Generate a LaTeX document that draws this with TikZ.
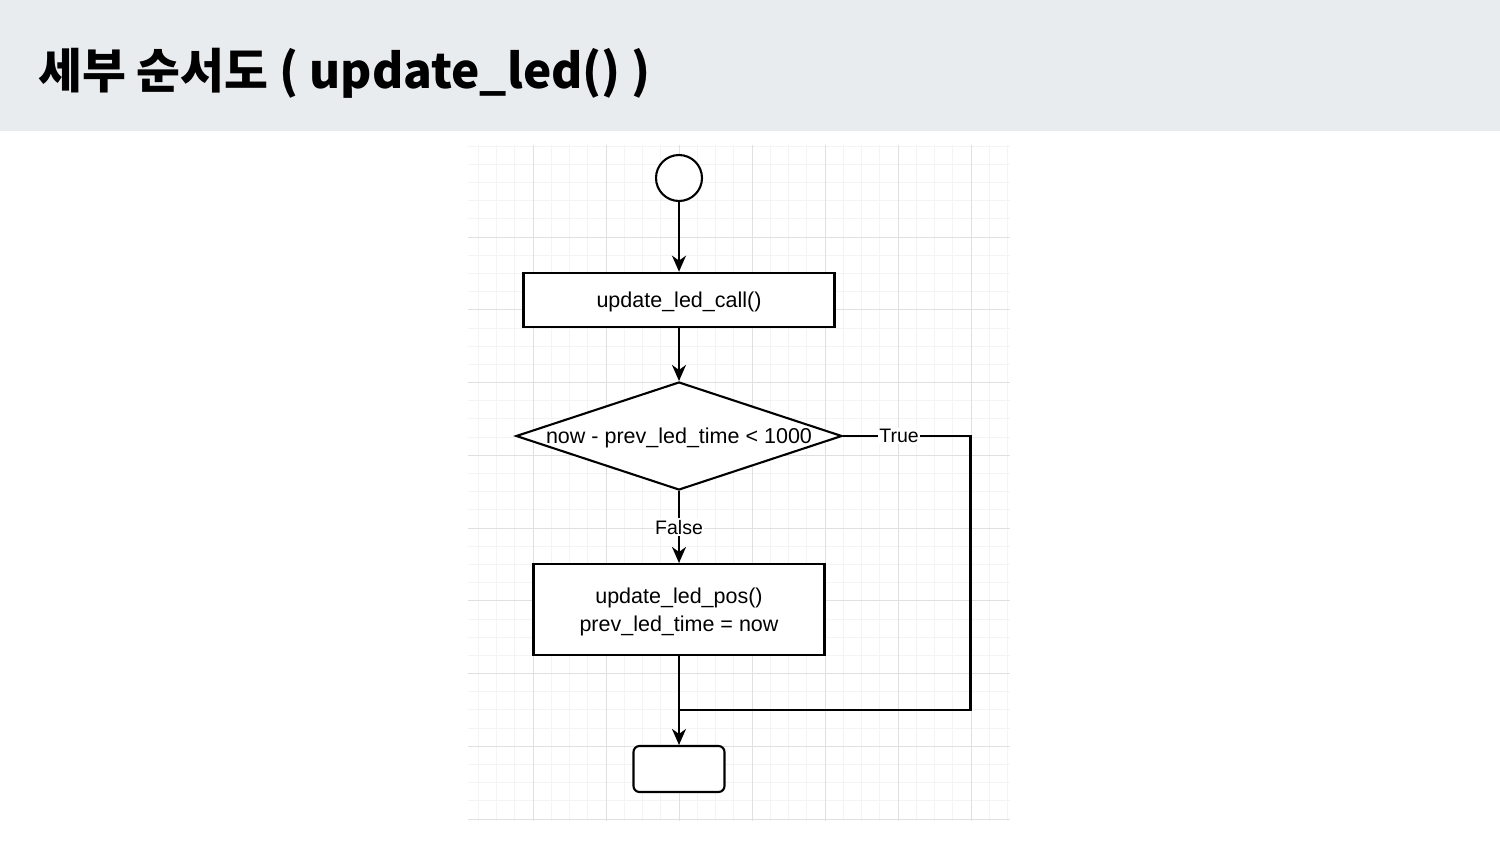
\documentclass[tikz,border=0pt]{standalone}
\usepackage{fontspec}
\setmainfont{Liberation Sans}
\newfontfamily\krfont{Noto Sans CJK KR}
\usetikzlibrary{arrows.meta,shapes.geometric}
\definecolor{band}{HTML}{E9ECEE}
\definecolor{gmaj}{HTML}{E0E0E0}
\definecolor{gmin}{HTML}{F4F4F4}
\begin{document}
\begin{tikzpicture}[x=1pt,y=-1pt,
  box/.style={draw=black,line width=2.1pt,fill=white,inner sep=0pt,align=center,text depth=0pt,font=\fontsize{21.5}{28}\selectfont},
  flow/.style={line width=2.1pt,-{Stealth[length=16pt,width=14pt,inset=5pt]}},
  wire/.style={line width=2.1pt},
  lbl/.style={fill=white,inner sep=1.5pt,text depth=0pt,font=\fontsize{19.5}{22}\selectfont},
  majl/.style={draw=gmaj,line width=0.9pt},
  minl/.style={draw=gmin,line width=0.8pt}]
\useasboundingbox (0,0) rectangle (1500,844);
\fill[white] (0,0) rectangle (1500,844);
\fill[band] (0,0) rectangle (1500,131);
\node[anchor=base west,inner sep=0pt] (title) at (38,88) {\krfont\bfseries\fontsize{47.7}{56}\selectfont 세부 순서도 ( update\_led() )};
% grid
\foreach \k in {-11,...,18} {\draw[minl] ({679+18.25*\k},145) -- ({679+18.25*\k},821);}
\foreach \k in {-5,...,32} {\draw[minl] (468,{237+18.1875*\k}) -- (1010,{237+18.1875*\k});}
\foreach \m in {-2,...,4} {\draw[majl] ({679+73*\m},145) -- ({679+73*\m},821);}
\foreach \m in {0,...,8} {\draw[majl] (468,{237+72.75*\m}) -- (1010,{237+72.75*\m});}
% nodes
\node[circle,draw=black,line width=2.1pt,fill=white,minimum size=46pt,inner sep=0pt] (start) at (679,178) {};
\node[box,minimum width=311pt,minimum height=54pt] (b1) at (679,299.7) {update\_led\_call()};
\node[diamond,draw=black,line width=2.1pt,fill=white,aspect=3,minimum width=326pt,minimum height=108pt,inner sep=0pt,text depth=0pt,font=\fontsize{21.5}{26}\selectfont] (dec) at (679,436) {\makebox[0pt]{now - prev\_led\_time < 1000}};
\node[box,minimum width=291pt,minimum height=91pt] (b2) at (679,609.5) {update\_led\_pos()\\prev\_led\_time = now};
\node[box,rounded corners=6pt,minimum width=91pt,minimum height=46pt] (end) at (679,769) {};
\coordinate (tr) at (970.5,436);
\coordinate (jn) at (679,710);
% connectors
\draw[flow] (start) -- (b1);
\draw[flow] (b1) -- (dec);
\draw[flow] (dec) -- node[lbl,pos=0.5]{False} (b2);
\draw[flow] (b2) -- (end);
\draw[wire] (dec.east) -- node[lbl,pos=0.44]{True} (tr) |- (jn);
\end{tikzpicture}
\end{document}
